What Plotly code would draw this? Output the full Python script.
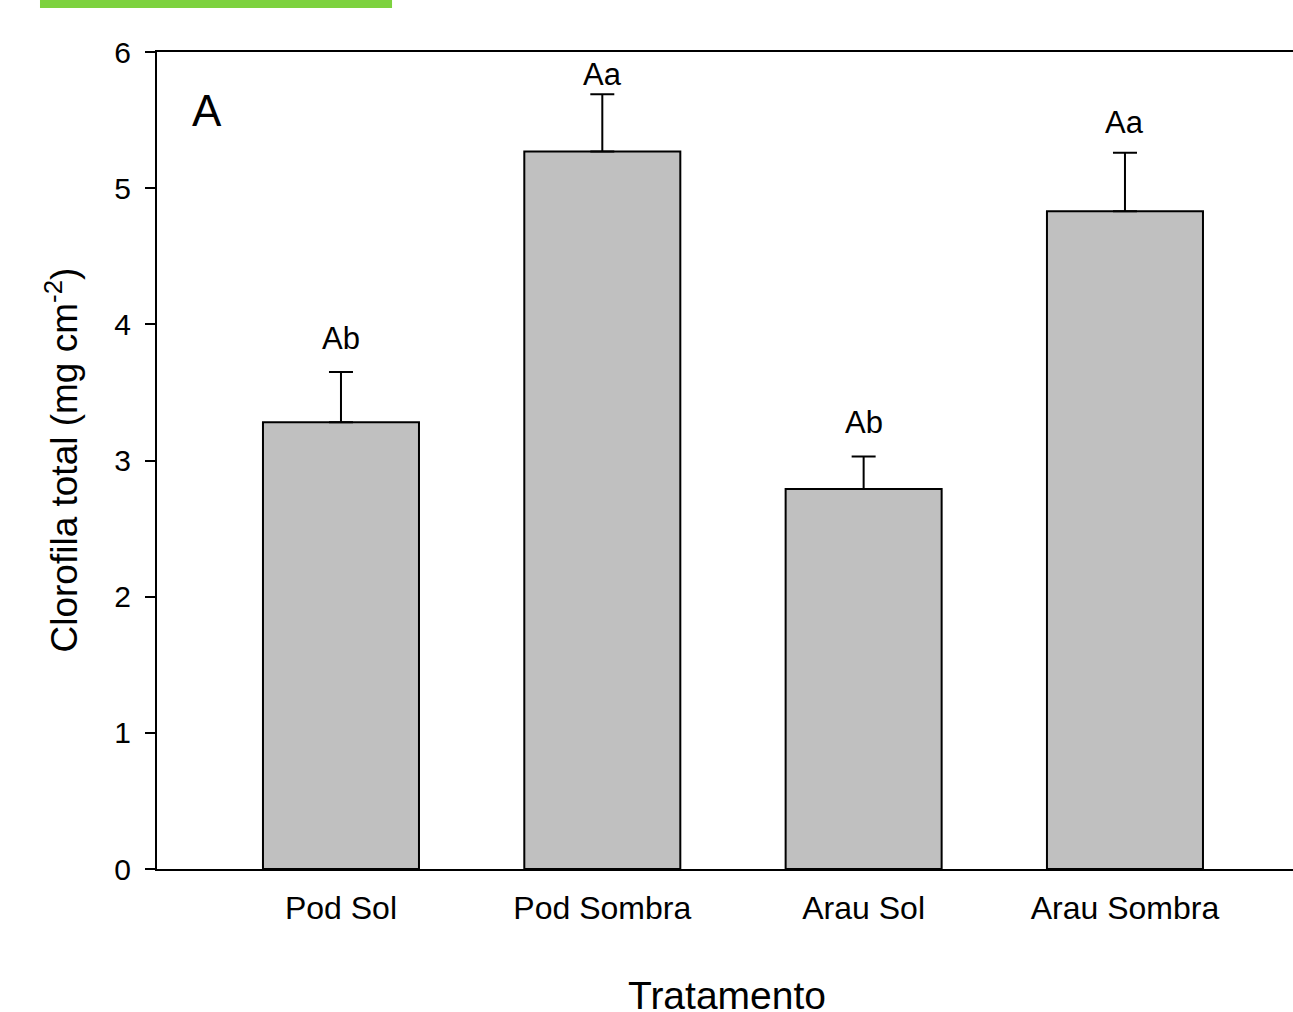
import plotly.graph_objects as go

categories = ["Pod Sol", "Pod Sombra", "Arau Sol", "Arau Sombra"]
means = [3.28, 5.27, 2.79, 4.83]
errors = [0.37, 0.42, 0.24, 0.43]
letters = ["Ab", "Aa", "Ab", "Aa"]
y_ticks = [0, 1, 2, 3, 4, 5, 6]

FONT = "Liberation Sans, Arial, sans-serif"
xpos = list(range(len(categories)))
letter_shift = [14, 0, 14, 11]

fig = go.Figure()
fig.add_trace(go.Bar(
    x=xpos, y=means, width=0.597,
    marker=dict(color="#c0c0c0", line=dict(color="black", width=2)),
    error_y=dict(type="data", array=errors, arrayminus=[0]*len(errors), symmetric=False,
                 color="black", thickness=2, width=12),
    showlegend=False, hoverinfo="skip",
))

for xi, m, e, lab, sh in zip(xpos, means, errors, letters, letter_shift):
    fig.add_annotation(x=xi, y=m + e, text=lab, showarrow=False, yanchor="bottom", yshift=sh,
                       font=dict(family=FONT, size=31, color="black"))

fig.add_annotation(xref="paper", yref="paper", x=0.044, y=0.929, text="A", showarrow=False,
                   xanchor="center", yanchor="middle",
                   font=dict(family=FONT, size=44, color="black"))
fig.add_annotation(xref="paper", yref="paper", x=0.502, y=0, yshift=-126, text="Tratamento",
                   showarrow=False, xanchor="center", yanchor="middle", borderpad=0,
                   font=dict(family=FONT, size=39, color="black"))
fig.add_annotation(xref="paper", yref="paper", x=0, xshift=-95, y=0.5,
                   text="Clorofila total (mg cm<sup>-2</sup>)", textangle=-90, showarrow=False,
                   xanchor="center", yanchor="middle",
                   font=dict(family=FONT, size=37, color="black"))

fig.add_shape(type="rect", xref="paper", yref="paper", x0=-0.103, x1=0.2069, y0=1.0538, y1=1.07,
              fillcolor="#7dd23f", line=dict(width=0), layer="above")

fig.update_layout(
    width=1293, height=1012,
    margin=dict(l=157, r=0, t=52, b=143),
    paper_bgcolor="white", plot_bgcolor="white",
    xaxis=dict(range=[-0.704, 3.643], tickmode="array", tickvals=xpos, ticktext=categories,
               showline=True, linecolor="black", linewidth=2, mirror=True, ticks="",
               showgrid=False, zeroline=False, ticklabelstandoff=10,
               tickfont=dict(family=FONT, size=32, color="black")),
    yaxis=dict(range=[0, 6], tickmode="array", tickvals=y_ticks,
               showline=True, linecolor="black", linewidth=2, mirror=False,
               ticks="outside", ticklen=10, tickwidth=2, tickcolor="black",
               showgrid=False, zeroline=False, ticklabelstandoff=8,
               tickfont=dict(family=FONT, size=30, color="black")),
)

fig.write_html("out.html", config={"displayModeBar": False},
               post_script="document.body.style.margin='0';document.body.style.overflow='hidden';")
